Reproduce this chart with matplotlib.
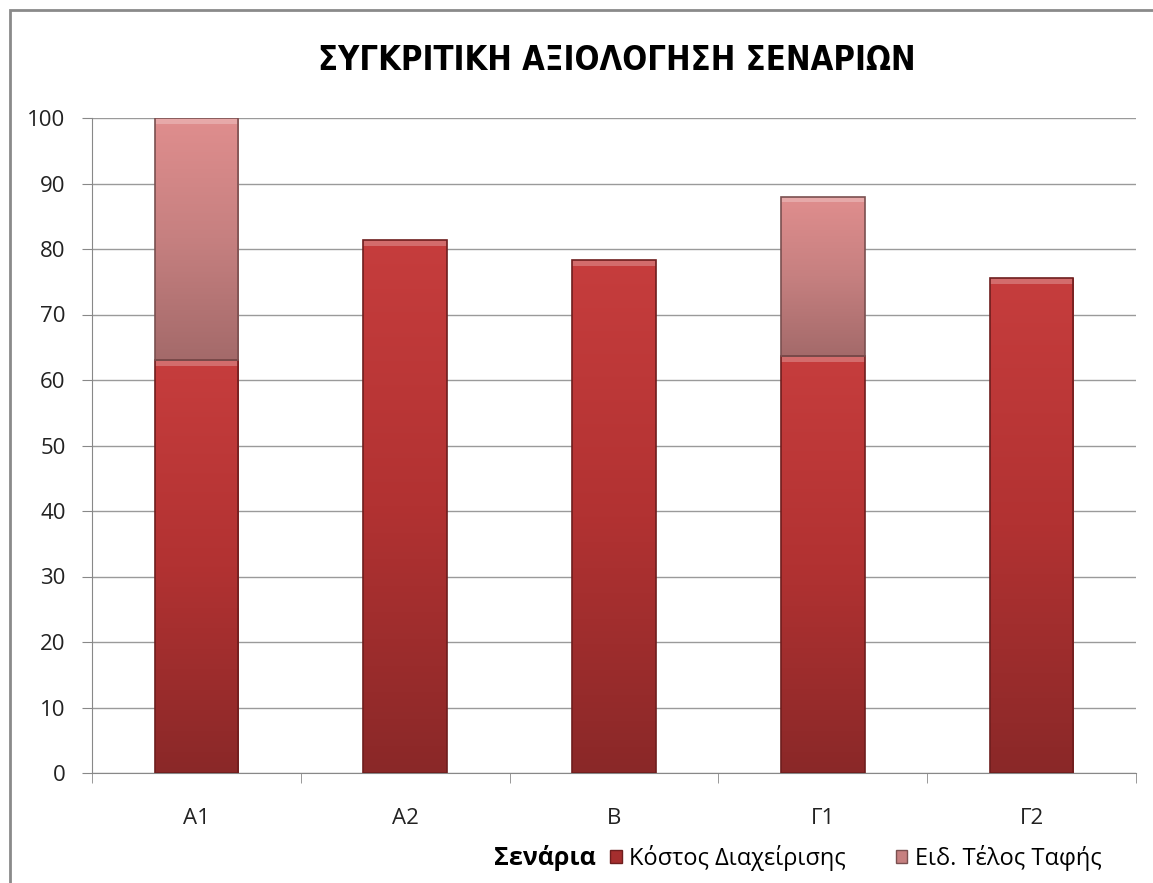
import numpy as np
import matplotlib.pyplot as plt
import matplotlib.colors as mcolors
from matplotlib.patches import Patch, Rectangle

# --- data ---
scenarios = ['Α1', 'Α2', 'Β', 'Γ1', 'Γ2']
management_cost = [63.0, 81.4, 78.3, 63.6, 75.6]
landfill_fee = [37.0, 0, 0, 24.4, 0]
series_names = ['Κόστος Διαχείρισης', 'Ειδ. Τέλος Ταφής']
yticks = list(range(0, 101, 10))

plt.rcParams['font.family'] = ['Open Sans', 'DejaVu Sans']

dark_cmap = mcolors.LinearSegmentedColormap.from_list('dark', ['#8a2828', '#b23232', '#c63d3d'])
light_cmap = mcolors.LinearSegmentedColormap.from_list('light', ['#a46a6a', '#c68080', '#e08e8e'])

fig = plt.figure(figsize=(11.53, 8.83), dpi=100)
ax = fig.add_axes([92 / 1153, 110 / 883, 1044 / 1153, 655 / 883])

x = np.arange(len(scenarios))
width = 0.4
gradient = np.linspace(0, 1, 256).reshape(-1, 1)


def gradient_bars(bars, cmap, edge):
    for b in bars:
        if b.get_height() <= 0:
            b.set_visible(False)
            continue
        x0, y0, w, h = b.get_x(), b.get_y(), b.get_width(), b.get_height()
        im = ax.imshow(gradient, cmap=cmap, origin='lower', aspect='auto',
                       extent=(x0, x0 + w, y0, y0 + h), zorder=2)
        im.set_clip_path(b)
        # bevel highlight on top, darker outline
        ax.add_patch(Rectangle((x0, y0 + h - 0.9), w, 0.9, facecolor='white',
                               alpha=0.25, edgecolor='none', zorder=3))
        ax.add_patch(Rectangle((x0, y0), w, h, facecolor='none',
                               edgecolor=edge, linewidth=1.2, zorder=3))


bars1 = ax.bar(x, management_cost, width, color='#b23232', zorder=2)
bars2 = ax.bar(x, landfill_fee, width, bottom=management_cost, color='#c68080', zorder=2)
gradient_bars(bars1, dark_cmap, '#6e1e1e')
gradient_bars(bars2, light_cmap, '#7a5050')

ax.set_xlim(-0.5, len(scenarios) - 0.5)
ax.set_ylim(0, 100)
ax.set_yticks(yticks)
ax.set_xticks(x)
ax.set_xticklabels(scenarios)
ax.set_xticks(np.arange(-0.5, len(scenarios), 1), minor=True)
ax.tick_params(axis='x', which='major', length=0, pad=25, labelsize=16, labelcolor='#222222')
ax.tick_params(axis='x', which='minor', length=7, color='#888888', direction='out')
ax.tick_params(axis='y', length=7, color='#888888', pad=12, labelsize=16, labelcolor='#222222')
ax.grid(axis='y', color='#9a9a9a', linewidth=1, zorder=0)
ax.set_axisbelow(True)
for s in ['top', 'right']:
    ax.spines[s].set_visible(False)
for s in ['left', 'bottom']:
    ax.spines[s].set_color('#888888')

fig.text(0.535, 1 - 60 / 883, 'ΣΥΓΚΡΙΤΙΚΗ ΑΞΙΟΛΟΓΗΣΗ ΣΕΝΑΡΙΩΝ', ha='center', va='center',
         fontsize=23.5, fontweight='bold', fontstretch='condensed',
         family=['DejaVu Sans', 'Open Sans'])

fig.text(545 / 1153, 1 - 858 / 883, 'Σενάρια', ha='center', va='center',
         fontsize=18, fontweight='bold')

handles = [Patch(facecolor='#a52e2e', edgecolor='#6e1e1e'),
           Patch(facecolor='#c68080', edgecolor='#7a5050')]
fig.legend(handles, series_names, loc='center left', bbox_to_anchor=(601 / 1153, 1 - 858 / 883),
           ncol=2, frameon=False, fontsize=17, handlelength=0.5, handleheight=0.5,
           handletextpad=0.3, columnspacing=2.1, borderaxespad=0)

# chart border
fig.add_artist(Rectangle((10 / 1153, -0.01), 1.0, 1 - 10 / 883 + 0.01, transform=fig.transFigure,
                         facecolor='none', edgecolor='#8a8a8a', linewidth=2))

fig.savefig('out.png', dpi=100)
